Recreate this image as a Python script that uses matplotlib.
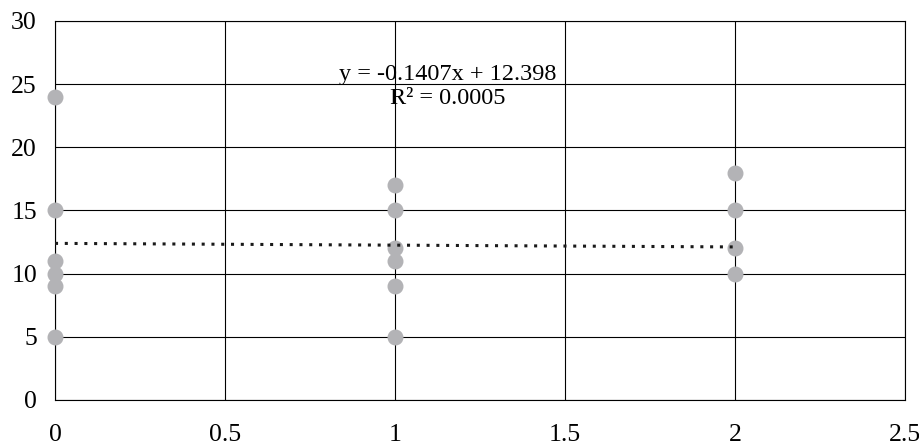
import numpy as np
import matplotlib.pyplot as plt

# scores grouped by category
x_vals = [0, 0, 0, 0, 0, 0, 1, 1, 1, 1, 1, 1, 2, 2, 2, 2]
y_vals = [24, 15, 11, 10, 9, 5, 17, 15, 12, 11, 9, 5, 18, 15, 12, 10]

# linear trendline
slope = -0.1407
intercept = 12.398
r_squared = 0.0005

xticks = [0, 0.5, 1, 1.5, 2, 2.5]
xtick_labels = ['0', '0.5', '1', '1.5', '2', '2.5']
yticks = [0, 5, 10, 15, 20, 25, 30]

plt.rcParams['font.family'] = ['Liberation Serif', 'DejaVu Serif']

fig = plt.figure(figsize=(9.2, 4.47), dpi=100)
ax = fig.add_axes([55 / 920, 47 / 447, 850 / 920, 379 / 447])

ax.set_xlim(0, 2.5)
ax.set_ylim(0, 30)
ax.set_xticks(xticks)
ax.set_xticklabels(xtick_labels)
ax.set_yticks(yticks)
ax.grid(True, color='black', linewidth=0.8)
ax.set_axisbelow(True)
for s in ax.spines.values():
    s.set_color('black')
    s.set_linewidth(0.8)
ax.tick_params(length=0, labelsize=18.5)
ax.tick_params(axis='x', pad=17)
ax.tick_params(axis='y', pad=13)

ax.scatter(x_vals, y_vals, s=110, color='#b3b3b6', zorder=3, clip_on=False)

tx = np.array([min(x_vals), max(x_vals)])
ax.plot(tx, slope * tx + intercept, color='#1a1a1a', linestyle=(0, (1, 2.2)),
        linewidth=2.2, zorder=4)

ax.text(1.155, 25.75, f'y = {slope}x + {intercept}', ha='center', va='center', fontsize=17.5)
ax.text(1.155, 23.85, f'R² = {r_squared}', ha='center', va='center', fontsize=17.5)

fig.savefig('out.png', dpi=100)
